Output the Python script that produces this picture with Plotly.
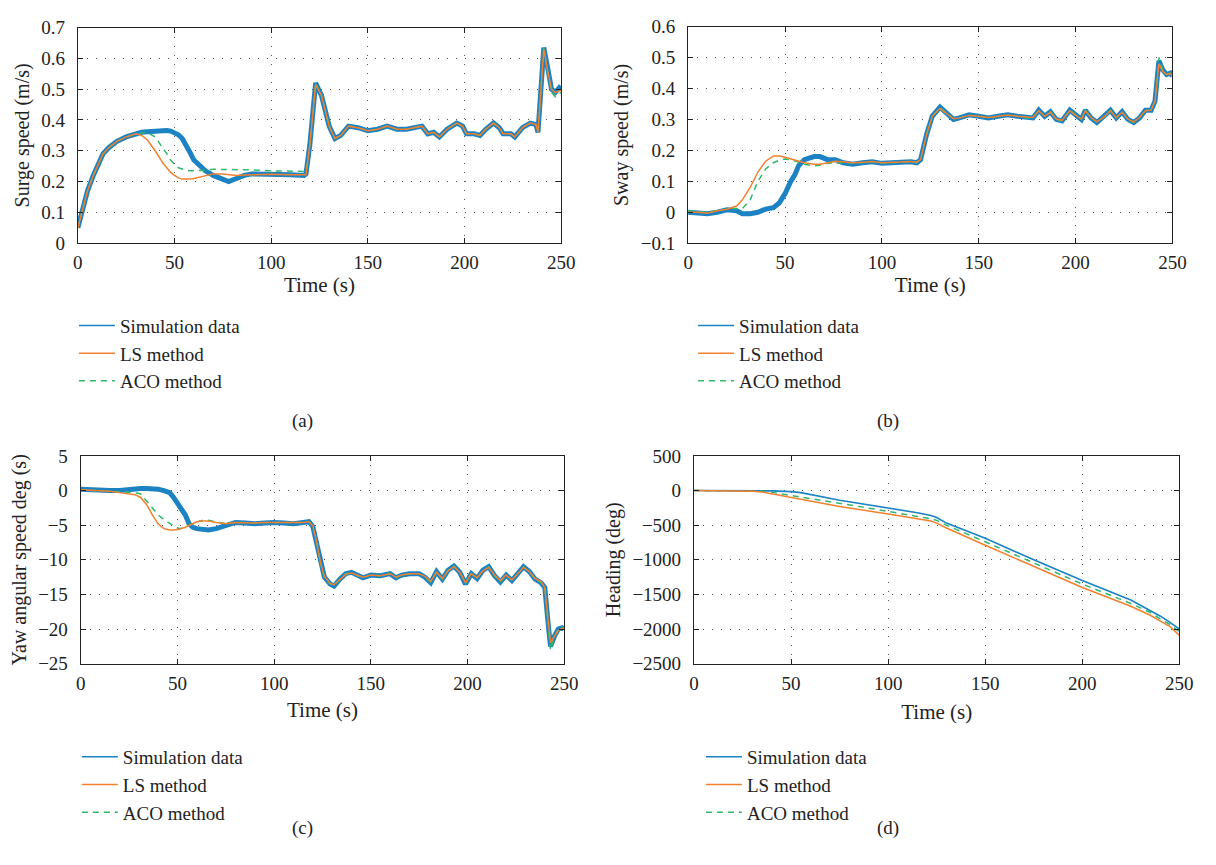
import plotly.graph_objects as go

W, H = 1216, 865

# ---------------- Panel (a): surge speed ----------------
t_a = [0, 2, 5, 8, 10, 13, 16, 20, 25, 30, 33, 36, 40, 44, 46, 48, 50, 52, 54, 56, 58, 60, 63, 66, 70, 75, 78,
       82, 86, 90, 100, 110, 117, 118, 120, 123, 126, 130, 133, 136, 140, 145, 150, 155, 160, 165, 170, 175, 178,
       181, 184, 187, 191, 196, 199, 201, 205, 208, 211, 215, 218, 220, 224, 226, 230, 234, 237, 238, 241, 243,
       245, 247, 249, 250]
sim_a = [0.05, 0.10, 0.17, 0.22, 0.25, 0.29, 0.31, 0.33, 0.345, 0.355, 0.36, 0.362, 0.365, 0.366, 0.366, 0.364,
         0.36, 0.352, 0.34, 0.32, 0.295, 0.27, 0.25, 0.235, 0.22, 0.205, 0.20, 0.21, 0.22, 0.225, 0.225, 0.222,
         0.22, 0.225, 0.32, 0.52, 0.48, 0.38, 0.34, 0.35, 0.38, 0.375, 0.365, 0.37, 0.38, 0.37, 0.37, 0.375, 0.38,
         0.355, 0.36, 0.345, 0.37, 0.39, 0.38, 0.355, 0.355, 0.35, 0.37, 0.39, 0.375, 0.355, 0.355, 0.345, 0.375,
         0.39, 0.385, 0.36, 0.635, 0.57, 0.50, 0.49, 0.505, 0.50]
ls_a = [0.05, 0.10, 0.17, 0.22, 0.25, 0.29, 0.31, 0.33, 0.345, 0.355, 0.35, 0.335, 0.30, 0.26, 0.245, 0.23,
        0.22, 0.212, 0.208, 0.207, 0.208, 0.21, 0.215, 0.22, 0.225, 0.225, 0.222, 0.22, 0.221, 0.222, 0.224,
        0.222, 0.22, 0.222, 0.32, 0.515, 0.48, 0.38, 0.34, 0.35, 0.38, 0.375, 0.365, 0.37, 0.38, 0.37, 0.37,
        0.375, 0.38, 0.355, 0.36, 0.345, 0.37, 0.39, 0.38, 0.355, 0.355, 0.35, 0.37, 0.39, 0.375, 0.355, 0.355,
        0.345, 0.375, 0.39, 0.385, 0.36, 0.63, 0.56, 0.50, 0.488, 0.495, 0.495]
aco_a = [0.05, 0.10, 0.17, 0.22, 0.25, 0.29, 0.31, 0.33, 0.345, 0.355, 0.358, 0.36, 0.345, 0.31, 0.29, 0.27,
         0.255, 0.245, 0.24, 0.237, 0.235, 0.235, 0.235, 0.236, 0.24, 0.24, 0.24, 0.24, 0.239, 0.238, 0.235,
         0.235, 0.233, 0.233, 0.32, 0.52, 0.48, 0.38, 0.34, 0.35, 0.38, 0.375, 0.365, 0.37, 0.38, 0.37, 0.37,
         0.375, 0.38, 0.355, 0.36, 0.345, 0.37, 0.39, 0.38, 0.355, 0.355, 0.35, 0.37, 0.39, 0.375, 0.355, 0.355,
         0.345, 0.375, 0.39, 0.385, 0.36, 0.64, 0.55, 0.49, 0.475, 0.485, 0.49]

# ---------------- Panel (b): sway speed ----------------
t_b = [0, 5, 10, 15, 20, 25, 28, 32, 36, 40, 44, 47, 50, 53, 55, 57, 60, 65, 68, 72, 76, 80, 85, 90, 95, 100,
       105, 110, 115, 118, 120, 123, 126, 130, 133, 137, 140, 145, 150, 155, 160, 165, 170, 175, 178, 181, 184,
       187, 190, 193, 197, 200, 203, 205, 208, 211, 215, 218, 221, 224, 227, 230, 233, 236, 239, 241, 243, 245,
       247, 249, 250]
sim_b = [0.0, -0.003, -0.005, 0.0, 0.008, 0.005, -0.005, -0.005, 0.0, 0.01, 0.015, 0.03, 0.06, 0.10, 0.12, 0.15,
         0.17, 0.18, 0.18, 0.17, 0.17, 0.16, 0.155, 0.16, 0.163, 0.158, 0.16, 0.162, 0.163, 0.16, 0.17, 0.25,
         0.31, 0.34, 0.325, 0.30, 0.305, 0.315, 0.31, 0.305, 0.31, 0.315, 0.31, 0.305, 0.305, 0.33, 0.31, 0.325,
         0.30, 0.295, 0.33, 0.315, 0.30, 0.33, 0.305, 0.29, 0.31, 0.33, 0.305, 0.325, 0.30, 0.29, 0.305, 0.33,
         0.33, 0.36, 0.49, 0.46, 0.445, 0.45, 0.44]
ls_b = [0.0, 0.0, -0.003, 0.005, 0.01, 0.02, 0.04, 0.08, 0.13, 0.165, 0.182, 0.182, 0.178, 0.172, 0.168, 0.165,
        0.16, 0.155, 0.155, 0.16, 0.165, 0.163, 0.16, 0.162, 0.164, 0.16, 0.162, 0.163, 0.164, 0.162, 0.17,
        0.25, 0.31, 0.335, 0.322, 0.302, 0.305, 0.313, 0.31, 0.306, 0.31, 0.314, 0.31, 0.306, 0.306, 0.328,
        0.31, 0.323, 0.301, 0.297, 0.328, 0.314, 0.301, 0.328, 0.306, 0.292, 0.31, 0.328, 0.306, 0.323, 0.301,
        0.292, 0.306, 0.328, 0.33, 0.36, 0.48, 0.455, 0.445, 0.448, 0.44]
aco_b = [0.005, 0.003, 0.0, 0.005, 0.01, 0.012, 0.012, 0.04, 0.10, 0.14, 0.16, 0.168, 0.172, 0.17, 0.165, 0.16,
         0.155, 0.15, 0.152, 0.158, 0.16, 0.16, 0.158, 0.16, 0.163, 0.158, 0.16, 0.162, 0.163, 0.16, 0.17,
         0.25, 0.31, 0.338, 0.324, 0.302, 0.305, 0.314, 0.31, 0.305, 0.31, 0.315, 0.31, 0.305, 0.305, 0.33,
         0.31, 0.325, 0.30, 0.295, 0.33, 0.315, 0.30, 0.33, 0.305, 0.29, 0.31, 0.33, 0.305, 0.325, 0.30, 0.29,
         0.305, 0.33, 0.33, 0.36, 0.50, 0.46, 0.445, 0.45, 0.44]

# ---------------- Panel (c): yaw angular speed ----------------
t_c = [0, 5, 10, 15, 20, 25, 28, 31, 34, 37, 40, 43, 46, 48, 51, 54, 56, 58, 60, 62, 66, 70, 75, 80, 85, 90, 95,
       100, 105, 110, 115, 118, 120, 122, 124, 126, 129, 131, 134, 137, 140, 143, 146, 150, 155, 160, 163, 166,
       170, 175, 178, 181, 184, 187, 190, 193, 196, 199, 202, 205, 208, 211, 214, 217, 220, 223, 226, 229, 232,
       235, 238, 240, 242, 243, 245, 247, 249, 250]
sim_c = [0.2, 0.1, 0.0, 0.0, 0.0, 0.2, 0.3, 0.3, 0.3, 0.3, 0.2, 0.0, -0.3, -1.0, -2.2, -3.5, -4.8, -5.3, -5.5,
         -5.6, -5.7, -5.5, -5.0, -4.6, -4.7, -4.8, -4.7, -4.6, -4.7, -4.8, -4.6, -4.5, -5.2, -7.5, -10.5, -12.5,
         -13.5, -13.8, -12.8, -12.0, -11.8, -12.2, -12.6, -12.2, -12.3, -12.0, -12.6, -12.2, -12.0, -12.0, -12.5,
         -13.3, -11.7, -12.8, -11.5, -10.9, -11.8, -13.5, -12.0, -12.7, -11.5, -11.0, -12.3, -13.2, -12.2, -13.0,
         -12.0, -11.0, -11.7, -12.8, -13.3, -14.0, -20.0, -22.5, -21.0, -20.0, -19.8, -20.0]
ls_c = [0.1, 0.05, 0.0, -0.1, -0.3, -0.5, -0.6, -1.0, -2.0, -3.5, -4.8, -5.5, -5.7, -5.7, -5.6, -5.3, -5.0,
        -4.8, -4.5, -4.4, -4.4, -4.6, -4.8, -4.6, -4.7, -4.7, -4.6, -4.6, -4.7, -4.7, -4.6, -4.5, -5.1, -7.4,
        -10.4, -12.4, -13.4, -13.6, -12.8, -12.1, -11.9, -12.2, -12.5, -12.2, -12.3, -12.0, -12.5, -12.2, -12.0,
        -12.0, -12.4, -13.1, -11.8, -12.7, -11.6, -11.0, -11.8, -13.3, -12.0, -12.6, -11.6, -11.1, -12.2, -13.0,
        -12.2, -12.9, -12.0, -11.1, -11.7, -12.7, -13.1, -14.0, -19.5, -22.0, -21.0, -20.2, -19.9, -20.0]
aco_c = [0.1, 0.05, 0.0, -0.1, -0.2, -0.25, -0.3, -0.5, -1.5, -2.5, -3.5, -4.2, -4.8, -5.1, -5.5, -5.3, -5.0,
         -4.8, -4.5, -4.35, -4.3, -4.5, -4.8, -4.6, -4.7, -4.7, -4.6, -4.6, -4.7, -4.7, -4.6, -4.5, -5.2, -7.6,
         -10.6, -12.6, -13.5, -13.7, -12.8, -12.0, -11.9, -12.2, -12.6, -12.2, -12.3, -12.0, -12.6, -12.2, -12.0,
         -12.0, -12.5, -13.2, -11.7, -12.8, -11.5, -10.9, -11.8, -13.4, -12.0, -12.7, -11.5, -11.0, -12.3, -13.2,
         -12.2, -13.0, -12.0, -11.0, -11.7, -12.8, -13.3, -14.2, -20.5, -23.0, -21.0, -20.0, -19.7, -20.0]

# ---------------- Panel (d): heading ----------------
t_d = [0, 20, 30, 35, 40, 50, 55, 75, 100, 115, 122, 125, 130, 150, 175, 200, 225, 235, 240, 245, 250]
sim_d = [0, 0, 0, -2, -5, -15, -30, -140, -250, -320, -360, -390, -470, -690, -1000, -1300, -1580, -1730, -1810,
         -1900, -2000]
ls_d = [0, 0, -10, -20, -45, -105, -130, -230, -340, -410, -440, -470, -540, -790, -1100, -1400, -1670, -1800,
        -1880, -1960, -2090]
aco_d = [0, 0, -5, -10, -25, -70, -95, -190, -300, -375, -405, -430, -500, -740, -1050, -1350, -1630, -1760,
         -1850, -1930, -2040]

y_titles = ["Surge speed (m/s)", "Sway speed (m/s)", "Yaw angular speed deg (s)", "Heading (deg)"]
x_title = "Time (s)"
y_ranges = [[0, 0.7], [-0.1, 0.6], [-25, 5], [-2500, 500]]
y_dticks = [0.1, 0.1, 5, 500]
panel_labels = ["(a)", "(b)", "(c)", "(d)"]
legend_names = ["Simulation data", "LS method", "ACO method"]

BLUE = "#1b82c4"
ORANGE = "#f3802f"
GREEN = "#2fb86a"
FONT = "Liberation Serif"

# pixel boxes of plot areas (left, right, top, bottom)
boxes = [(74, 565, 18, 239), (694, 1186, 17, 239), (77, 568, 457, 670), (700, 1193, 457, 670)]
legend_pos = [(70, 304), (699, 304), (73, 746), (707, 746)]
label_pos = [(290, 421), (910, 421), (290, 852), (910, 852)]
xtitle_standoff = [2, 2, 9, 11]

data = [(t_a, sim_a, ls_a, aco_a), (t_b, sim_b, ls_b, aco_b), (t_c, sim_c, ls_c, aco_c), (t_d, sim_d, ls_d, aco_d)]
blue_widths = [5, 5, 5, 1.6]

fig = go.Figure()
layout = dict(width=W, height=H, margin=dict(l=0, r=0, t=0, b=0), paper_bgcolor="white",
              plot_bgcolor="white", font=dict(family=FONT, size=19, color="#222"), annotations=[])

for i in range(4):
    n = "" if i == 0 else str(i + 1)
    xa, ya = "x" + n, "y" + n
    lg = "legend" + n
    t, s, l, a = data[i]
    fig.add_trace(go.Scatter(x=t, y=s, mode="lines", line=dict(color=BLUE, width=blue_widths[i]),
                             xaxis=xa, yaxis=ya, showlegend=False))
    fig.add_trace(go.Scatter(x=t, y=a, mode="lines", line=dict(color=GREEN, width=1.5, dash="6px,5px"),
                             xaxis=xa, yaxis=ya, showlegend=False))
    fig.add_trace(go.Scatter(x=t, y=l, mode="lines", line=dict(color=ORANGE, width=1.5),
                             xaxis=xa, yaxis=ya, showlegend=False))
    # legend entries
    for name, col, dash in zip(legend_names, [BLUE, ORANGE, GREEN], ["solid", "solid", "6px,5px"]):
        fig.add_trace(go.Scatter(x=[None], y=[None], mode="lines", name=name,
                                 line=dict(color=col, width=1.5, dash=dash),
                                 xaxis=xa, yaxis=ya, legend=lg, legendgroup=name + n))
    L, R, T, B = boxes[i]
    axis_common = dict(showline=True, linecolor="#222", linewidth=1.3, mirror="ticks", ticks="inside",
                       ticklen=5, tickcolor="#222", showgrid=True, gridcolor="#555", gridwidth=1,
                       griddash="1px,8px", zeroline=False, tickfont=dict(family=FONT, size=19, color="#222"))
    layout["xaxis" + n] = dict(domain=[L / W, R / W], range=[0, 250], dtick=50, anchor=ya,
                               ticklabelstandoff=2,
                               title=dict(text=x_title, font=dict(family=FONT, size=21),
                                          standoff=xtitle_standoff[i]),
                               **axis_common)
    layout["yaxis" + n] = dict(domain=[1 - B / H, 1 - T / H], range=y_ranges[i], dtick=y_dticks[i], anchor=xa,
                               ticklabelstandoff=8,
                               title=dict(text=y_titles[i], font=dict(family=FONT, size=20), standoff=6),
                               **axis_common)
    lx, ly = legend_pos[i]
    layout[lg] = dict(x=lx / W, y=1 - ly / H, xanchor="left", yanchor="top", bgcolor="rgba(0,0,0,0)",
                      font=dict(family=FONT, size=19, color="#222"), tracegroupgap=0, itemwidth=36)
    px, py = label_pos[i]
    layout["annotations"].append(dict(text=panel_labels[i], x=px / W, y=1 - py / H, xref="paper", yref="paper",
                                      showarrow=False, font=dict(family=FONT, size=19, color="#222")))

fig.update_layout(**layout)
fig.write_html("out.html")
